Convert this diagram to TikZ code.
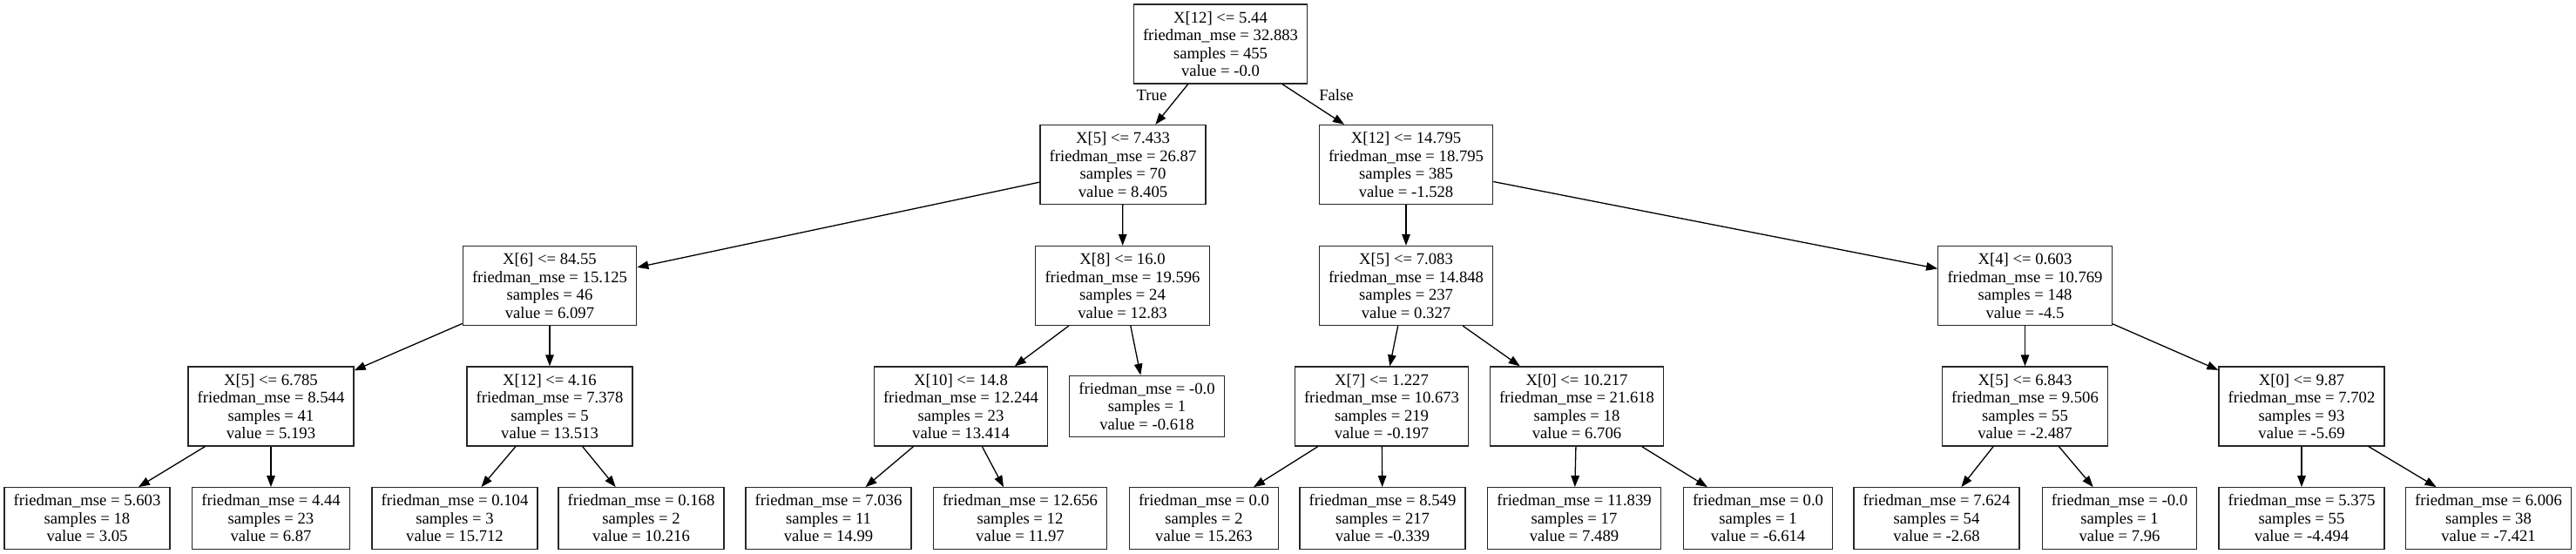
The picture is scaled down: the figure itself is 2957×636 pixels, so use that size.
\documentclass[tikz,border=0pt]{standalone}
\usepackage{fontspec}
\setmainfont{Liberation Serif}
\usetikzlibrary{arrows.meta}
\begin{document}
\begin{tikzpicture}[x=1pt,y=1pt,
  tn/.style={draw=black!85, line width=1.3pt, rectangle, align=center,
    inner xsep=10.7pt, inner ysep=0pt, font=\fontsize{18.67}{20.5}\selectfont},
  inode/.style={tn, minimum height=91pt},
  lnode/.style={tn, minimum height=70.5pt},
  conn/.style={draw=black, line width=1.3pt, -{Triangle[length=13pt,width=9.5pt]}},
  elab/.style={font=\fontsize{18.67}{20.5}\selectfont, inner sep=0pt}]
\fill[white] (0,0) rectangle (2957,-636);
\useasboundingbox (0,0) rectangle (2957,-636);
% level 0
\node[inode] (r) at (1401,-50.5) {X[12] <= 5.44\\friedman\_mse = 32.883\\samples = 455\\value = -0.0};
% level 1
\node[inode] (a) at (1289,-189) {X[5] <= 7.433\\friedman\_mse = 26.87\\samples = 70\\value = 8.405};
\node[inode] (b) at (1614,-189) {X[12] <= 14.795\\friedman\_mse = 18.795\\samples = 385\\value = -1.528};
% level 2
\node[inode] (a1) at (631,-328) {X[6] <= 84.55\\friedman\_mse = 15.125\\samples = 46\\value = 6.097};
\node[inode] (a2) at (1288.5,-328) {X[8] <= 16.0\\friedman\_mse = 19.596\\samples = 24\\value = 12.83};
\node[inode] (b1) at (1614,-328) {X[5] <= 7.083\\friedman\_mse = 14.848\\samples = 237\\value = 0.327};
\node[inode] (b2) at (2324.5,-328) {X[4] <= 0.603\\friedman\_mse = 10.769\\samples = 148\\value = -4.5};
% level 3
\node[inode] (a11) at (311,-466.5) {X[5] <= 6.785\\friedman\_mse = 8.544\\samples = 41\\value = 5.193};
\node[inode] (a12) at (631,-466.5) {X[12] <= 4.16\\friedman\_mse = 7.378\\samples = 5\\value = 13.513};
\node[inode] (a21) at (1103,-466.5) {X[10] <= 14.8\\friedman\_mse = 12.244\\samples = 23\\value = 13.414};
\node[lnode] (a22) at (1316.5,-466.5) {friedman\_mse = -0.0\\samples = 1\\value = -0.618};
\node[inode] (b11) at (1586,-466.5) {X[7] <= 1.227\\friedman\_mse = 10.673\\samples = 219\\value = -0.197};
\node[inode] (b12) at (1810,-466.5) {X[0] <= 10.217\\friedman\_mse = 21.618\\samples = 18\\value = 6.706};
\node[inode] (b21) at (2324.5,-466.5) {X[5] <= 6.843\\friedman\_mse = 9.506\\samples = 55\\value = -2.487};
\node[inode] (b22) at (2642,-466.5) {X[0] <= 9.87\\friedman\_mse = 7.702\\samples = 93\\value = -5.69};
% level 4
\node[lnode] (l1) at (100,-595) {friedman\_mse = 5.603\\samples = 18\\value = 3.05};
\node[lnode] (l2) at (311,-595) {friedman\_mse = 4.44\\samples = 23\\value = 6.87};
\node[lnode] (l3) at (522,-595) {friedman\_mse = 0.104\\samples = 3\\value = 15.712};
\node[lnode] (l4) at (736,-595) {friedman\_mse = 0.168\\samples = 2\\value = 10.216};
\node[lnode] (l5) at (951,-595) {friedman\_mse = 7.036\\samples = 11\\value = 14.99};
\node[lnode] (l6) at (1171,-595) {friedman\_mse = 12.656\\samples = 12\\value = 11.97};
\node[lnode] (l7) at (1382,-595) {friedman\_mse = 0.0\\samples = 2\\value = 15.263};
\node[lnode] (l8) at (1587,-595) {friedman\_mse = 8.549\\samples = 217\\value = -0.339};
\node[lnode] (l9) at (1807,-595) {friedman\_mse = 11.839\\samples = 17\\value = 7.489};
\node[lnode] (l10) at (2018,-595) {friedman\_mse = 0.0\\samples = 1\\value = -6.614};
\node[lnode] (l11) at (2223,-595) {friedman\_mse = 7.624\\samples = 54\\value = -2.68};
\node[lnode] (l12) at (2433,-595) {friedman\_mse = -0.0\\samples = 1\\value = 7.96};
\node[lnode] (l13) at (2642,-595) {friedman\_mse = 5.375\\samples = 55\\value = -4.494};
\node[lnode] (l14) at (2856.5,-595) {friedman\_mse = 6.006\\samples = 38\\value = -7.421};
% edge labels
\node[elab] (tl) at (1322,-109) {True};
\node[elab] (fl) at (1534,-109) {False};
% connectors
\draw[conn] (r) -- (a);
\draw[conn] (r) -- (b);
\draw[conn] (a) -- (a1);
\draw[conn] (a) -- (a2);
\draw[conn] (b) -- (b1);
\draw[conn] (b) -- (b2);
\draw[conn] (a1) -- (a11);
\draw[conn] (a1) -- (a12);
\draw[conn] (a2) -- (a21);
\draw[conn] (a2) -- (a22);
\draw[conn] (b1) -- (b11);
\draw[conn] (b1) -- (b12);
\draw[conn] (b2) -- (b21);
\draw[conn] (b2) -- (b22);
\draw[conn] (a11) -- (l1);
\draw[conn] (a11) -- (l2);
\draw[conn] (a12) -- (l3);
\draw[conn] (a12) -- (l4);
\draw[conn] (a21) -- (l5);
\draw[conn] (a21) -- (l6);
\draw[conn] (b11) -- (l7);
\draw[conn] (b11) -- (l8);
\draw[conn] (b12) -- (l9);
\draw[conn] (b12) -- (l10);
\draw[conn] (b21) -- (l11);
\draw[conn] (b21) -- (l12);
\draw[conn] (b22) -- (l13);
\draw[conn] (b22) -- (l14);
\end{tikzpicture}
\end{document}
